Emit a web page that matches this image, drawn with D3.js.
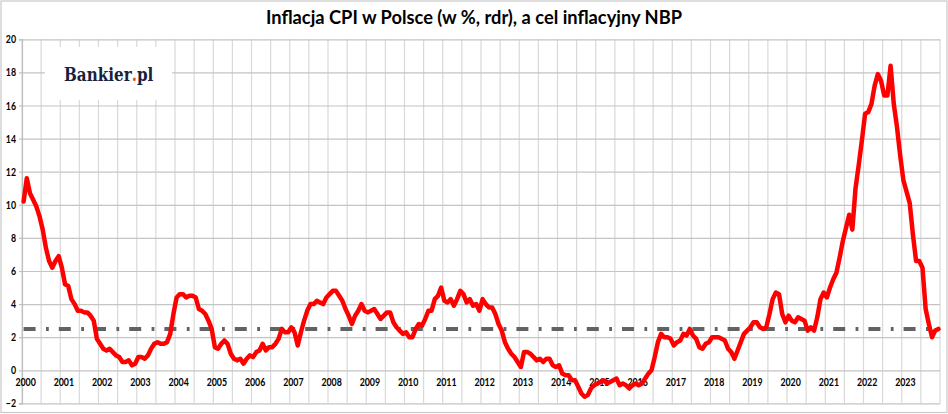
<!DOCTYPE html>
<html>
  <head>
    <meta charset="utf-8">
    <title>Inflacja CPI w Polsce</title>
    <script src="https://d3js.org/d3.v7.min.js"></script>
    <style>
      body { margin: 0; background: #fff; }
      svg { display: block; }
    </style>
  </head>
  <body>
    <svg width="948" height="414"></svg>
    <script>
      // CPI r/r, monthly, first point Jun 2000 (as in the source chart)
      const cpi2000 = [10.2, 11.6, 10.7, 10.3, 9.9, 9.3, 8.5];
      const cpiYears = [
        [7.4, 6.6, 6.2, 6.6, 6.9, 6.2, 5.2, 5.1, 4.3, 4.0, 3.6, 3.6],
        [3.5, 3.5, 3.3, 3.0, 1.9, 1.6, 1.3, 1.2, 1.3, 1.1, 0.9, 0.8],
        [0.5, 0.5, 0.6, 0.3, 0.4, 0.8, 0.8, 0.7, 0.9, 1.3, 1.6, 1.7],
        [1.6, 1.6, 1.7, 2.2, 3.4, 4.4, 4.6, 4.6, 4.4, 4.5, 4.5, 4.4],
        [3.7, 3.6, 3.4, 3.0, 2.5, 1.4, 1.3, 1.6, 1.8, 1.6, 1.0, 0.7],
        [0.6, 0.7, 0.4, 0.7, 0.9, 0.8, 1.1, 1.2, 1.6, 1.2, 1.4, 1.4],
        [1.6, 1.9, 2.5, 2.3, 2.3, 2.6, 2.3, 1.5, 2.3, 3.0, 3.6, 4.0],
        [4.0, 4.2, 4.1, 4.0, 4.4, 4.6, 4.8, 4.8, 4.5, 4.2, 3.7, 3.3],
        [2.8, 3.3, 3.6, 4.0, 3.6, 3.5, 3.6, 3.7, 3.4, 3.1, 3.3, 3.5],
        [3.5, 2.9, 2.6, 2.4, 2.2, 2.3, 2.0, 2.0, 2.5, 2.8, 2.7, 3.1],
        [3.6, 3.6, 4.3, 4.5, 5.0, 4.2, 4.1, 4.3, 3.9, 4.3, 4.8, 4.6],
        [4.1, 4.3, 3.9, 4.0, 3.6, 4.3, 4.0, 3.8, 3.8, 3.4, 2.8, 2.4],
        [1.7, 1.3, 1.0, 0.8, 0.5, 0.2, 1.1, 1.1, 1.0, 0.8, 0.6, 0.7],
        [0.5, 0.7, 0.7, 0.3, 0.2, 0.3, -0.2, -0.3, -0.3, -0.6, -0.6, -1.0],
        [-1.4, -1.6, -1.5, -1.1, -0.9, -0.8, -0.7, -0.6, -0.8, -0.7, -0.6, -0.5],
        [-0.9, -0.8, -0.9, -1.1, -0.9, -0.8, -0.9, -0.8, -0.5, -0.2, 0.0, 0.8],
        [1.7, 2.2, 2.0, 2.0, 1.9, 1.5, 1.7, 1.8, 2.2, 2.1, 2.5, 2.1],
        [1.9, 1.4, 1.3, 1.6, 1.7, 2.0, 2.0, 2.0, 1.9, 1.8, 1.3, 1.1],
        [0.7, 1.2, 1.7, 2.2, 2.4, 2.6, 2.9, 2.9, 2.6, 2.5, 2.6, 3.4],
        [4.3, 4.7, 4.6, 3.4, 2.9, 3.3, 3.0, 2.9, 3.2, 3.1, 3.0, 2.4],
        [2.6, 2.4, 3.2, 4.3, 4.7, 4.4, 5.0, 5.5, 5.9, 6.8, 7.8, 8.6],
        [9.4, 8.5, 11.0, 12.4, 13.9, 15.5, 15.6, 16.1, 17.2, 17.9, 17.5, 16.6],
        [16.6, 18.4, 16.1, 14.7, 13.0, 11.5, 10.8, 10.1, 8.2, 6.6, 6.6, 6.2]
      ];
      const cpi2024 = [3.7, 2.8, 2.0, 2.4, 2.5];
      const cpi = cpi2000.concat(...cpiYears, cpi2024);

      const yearLabels = d3.range(2000, 2024).map(String);
      const yTicks = d3.range(-2, 21, 2);
      const target = 2.5;
      const titleText = "Inflacja CPI w Polsce (w %, rdr), a cel inflacyjny NBP";

      const svg = d3.select("svg");
      const W = +svg.attr("width"), H = +svg.attr("height");
      const margin = {left: 22, right: 8, top: 39.3, bottom: 10.6};

      const x = d3.scaleLinear()
        .domain([0, cpi.length])
        .range([margin.left, W - margin.right]);
      const y = d3.scaleLinear()
        .domain([-2, 20])
        .range([H - margin.bottom, margin.top]);

      // chart border
      svg.append("rect")
        .attr("x", 1).attr("y", 1)
        .attr("width", W - 2).attr("height", H - 2.5)
        .attr("fill", "#fff")
        .attr("stroke", "#c8c8c8")
        .attr("stroke-width", 1.2);

      // vertical gridlines every 6 months
      svg.append("g")
        .selectAll("line")
        .data(d3.range(0, cpi.length + 1, 6))
        .join("line")
          .attr("x1", d => x(d)).attr("x2", d => x(d))
          .attr("y1", y(20)).attr("y2", y(-2))
          .attr("stroke", "#d9d9d9")
          .attr("stroke-width", 1.2);

      // horizontal gridlines
      svg.append("g")
        .attr("transform", `translate(${x(0)},0)`)
        .call(d3.axisLeft(y).tickValues(yTicks).tickSize(-(x(cpi.length) - x(0))).tickFormat(""))
        .call(g => g.select(".domain").remove())
        .selectAll("line")
          .attr("stroke", "#c4c4c4")
          .attr("stroke-width", 1.2);

      // y axis with labels
      const yAxis = svg.append("g")
        .attr("transform", `translate(${x(0)},0)`)
        .call(d3.axisLeft(y).tickValues(yTicks).tickSize(3).tickPadding(3));
      yAxis.select(".domain").attr("stroke", "#bfbfbf").attr("stroke-width", 1.2);
      yAxis.selectAll(".tick line").attr("stroke", "#bfbfbf").attr("stroke-width", 1.2);
      yAxis.selectAll("text")
        .attr("font-family", "Lato, 'Open Sans', sans-serif")
        .attr("font-weight", "bold")
        .attr("font-size", 11)
        .attr("fill", "#000");

      // x axis labels, one per year
      const xAxis = svg.append("g")
        .attr("transform", `translate(0,${y(0)})`)
        .call(d3.axisBottom(x)
          .tickValues(yearLabels.map((d, i) => i * 12 + 0.5))
          .tickFormat((d, i) => yearLabels[i])
          .tickSize(0).tickPadding(8));
      xAxis.select(".domain").remove();
      xAxis.selectAll("text")
        .attr("font-family", "Lato, 'Open Sans', sans-serif")
        .attr("font-weight", "bold")
        .attr("font-size", 11)
        .attr("fill", "#000")
        .attr("dx", 1.5);

      // narrow the digits a bit, Calibri-like
      svg.selectAll(".tick text").each(function() {
        const t = d3.select(this);
        t.attr("textLength", this.getComputedTextLength() * 0.8)
         .attr("lengthAdjust", "spacingAndGlyphs");
      });

      // logo box
      const logo = svg.append("g");
      logo.append("rect")
        .attr("x", 45).attr("y", 47)
        .attr("width", 127).attr("height", 53)
        .attr("fill", "#fff");
      const logoG = logo.append("g");
      const logoText = logoG.append("text")
        .attr("x", 0).attr("y", 0)
        .attr("font-family", "'DejaVu Serif', 'Liberation Serif', serif")
        .attr("font-weight", "bold")
        .attr("font-size", 18)
        .attr("fill", "#17213d");
      logoText.append("tspan").text("Bankier");
      logoText.append("tspan").attr("fill", "#ea4b2a").text(".");
      logoText.append("tspan").text("pl");
      const logoW = logoText.node().getComputedTextLength();
      logoG.attr("transform", `translate(64,80.5) scale(${88 / logoW},1)`);

      // NBP target
      svg.append("line")
        .attr("x1", x(0.5)).attr("x2", x(cpi.length - 0.5))
        .attr("y1", y(target)).attr("y2", y(target))
        .attr("stroke", "#626262")
        .attr("stroke-width", 4)
        .attr("stroke-dasharray", "12,10.4,2.8,10");

      // CPI line
      const line = d3.line()
        .x((d, i) => x(i + 0.5))
        .y(d => y(d));
      svg.append("path")
        .datum(cpi)
        .attr("d", line)
        .attr("fill", "none")
        .attr("stroke", "#ff0000")
        .attr("stroke-width", 4.5)
        .attr("stroke-linejoin", "round")
        .attr("stroke-linecap", "round");

      // title
      svg.append("text")
        .attr("x", 474).attr("y", 24)
        .attr("text-anchor", "middle")
        .attr("font-family", "Lato, 'Open Sans', sans-serif")
        .attr("font-weight", "bold")
        .attr("font-size", 18)
        .attr("fill", "#000")
        .attr("textLength", 416)
        .attr("lengthAdjust", "spacingAndGlyphs")
        .text(titleText);
    </script>
  </body>
</html>
